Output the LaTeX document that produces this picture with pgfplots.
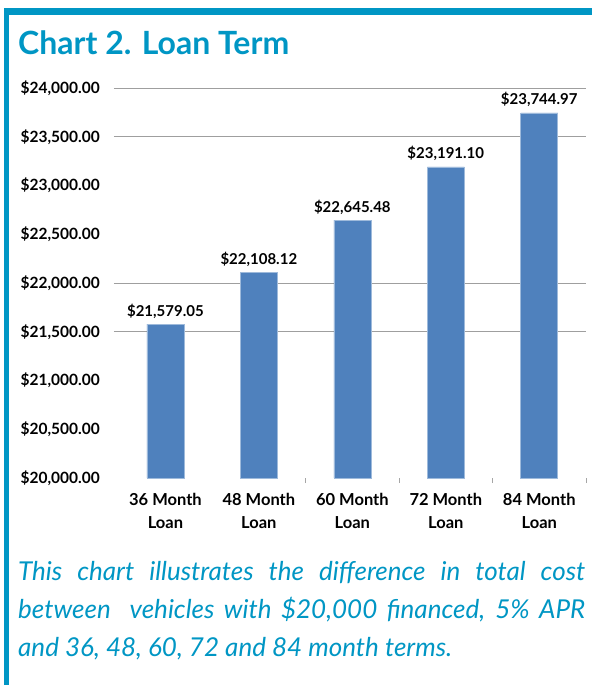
\documentclass[border=0pt]{standalone}
\usepackage{fontspec}
\setmainfont{Lato}
\usepackage{pgfplots}
\pgfplotsset{compat=1.18}
\definecolor{tealc}{RGB}{0,150,196}
\definecolor{barblue}{RGB}{79,129,189}
\begin{document}
\begin{tikzpicture}[x=1pt,y=1pt]
\useasboundingbox (-114,-207) rectangle (478,478);
\fill[tealc] (-110,-207) rectangle (-105,470);
\fill[tealc] (-110,470) rectangle (478,462.5);
\node[anchor=base west, inner sep=0pt, text=tealc, font=\bfseries\fontsize{32}{35}\selectfont] at (-96,423) {Chart 2. Loan Term};
\begin{axis}[at={(0,0)}, anchor=south west, scale only axis,
  width=472pt, height=390pt,
  xmin=-0.55, xmax=4.5, ymin=20000, ymax=24000,
  scaled ticks=false,
  axis line style={draw=none},
  major tick length=0pt,
  xtick pos=lower, ytick pos=left,
  ytick={20000,20500,...,24000},
  yticklabels={{\$20,000.00},{\$20,500.00},{\$21,000.00},{\$21,500.00},{\$22,000.00},{\$22,500.00},{\$23,000.00},{\$23,500.00},{\$24,000.00}},
  y tick label style={font=\bfseries\fontsize{15.5}{16}\selectfont, anchor=east, inner sep=0pt, xshift=-14pt},
  xtick={0,1,2,3,4},
  xticklabels={36 Month\\Loan,48 Month\\Loan,60 Month\\Loan,72 Month\\Loan,84 Month\\Loan},
  x tick label style={font=\bfseries\fontsize{16.5}{23}\selectfont, align=center, anchor=north, inner sep=0pt, yshift=-15pt},
  extra x ticks={1.5,2.5,3.5,4.5},
  extra x tick labels={},
  extra x tick style={major tick length=5pt, tick align=outside, tick style={draw=gray!70, line width=0.7pt}},
  extra y ticks={21500,22000,23500,24000},
  extra y tick labels={},
  extra y tick style={grid=major, major grid style={draw=gray!75, line width=0.9pt}},
]
\addplot[ybar, bar width=37pt, bar shift=0pt, fill=barblue, draw=barblue!55!white, line width=0.6pt,
  point meta=explicit symbolic, nodes near coords,
  every node near coord/.append style={font=\bfseries\fontsize{15}{16}\selectfont, anchor=base, inner sep=0pt, yshift=8pt, text=black}]
coordinates {
(0,21579.05) [\$21,579.05]
(1,22108.12) [\$22,108.12]
(2,22645.48) [\$22,645.48]
(3,23191.10) [\$23,191.10]
(4,23744.97) [\$23,744.97]
};
\end{axis}
\node[anchor=base west, text width=567pt, align=justify, inner sep=0pt, text=tealc, font=\itshape\fontsize{26}{38}\selectfont] at (-96,-102) {This chart illustrates the difference in total cost\linebreak between\ \ vehicles with \$20,000 financed, 5\% APR\linebreak and 36, 48, 60, 72 and 84 month terms.};
\end{tikzpicture}
\end{document}
